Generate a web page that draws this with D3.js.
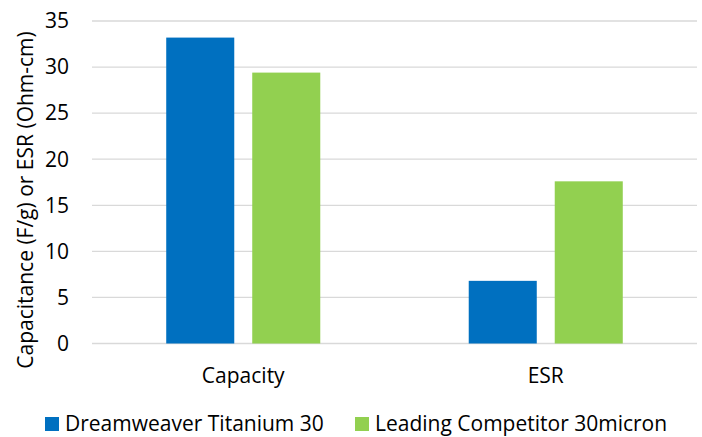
<!DOCTYPE html>
<html>
<head>
<meta charset="utf-8">
<script src="https://cdn.jsdelivr.net/npm/d3@7"></script>
<style>
  html, body { margin: 0; padding: 0; background: #fff; }
  svg { display: block; font-family: "Open Sans", Lato, sans-serif; }
</style>
</head>
<body>
<svg id="chart" width="702" height="437"></svg>
<script>
const categories = ["Capacity", "ESR"];
const seriesNames = ["Dreamweaver Titanium 30", "Leading Competitor 30micron"];
const dreamweaverValues = [33.2, 6.8];
const competitorValues = [29.4, 17.6];
const yTicks = [0, 5, 10, 15, 20, 25, 30, 35];
const colors = ["#0070C0", "#92D050"];
const yTitle = "Capacitance (F/g) or ESR (Ohm-cm)";

const svg = d3.select("#chart");
const margin = { left: 92, right: 5, top: 21, bottom: 93.5 };
const W = 702, H = 437;
const fontSize = 21;

const x = d3.scaleBand().domain(categories).range([margin.left, W - margin.right]).paddingInner(0).paddingOuter(0);
const x1 = d3.scaleBand().domain(seriesNames).range([0, x.bandwidth()]).paddingInner(0.209).paddingOuter(0.863);
const y = d3.scaleLinear().domain([0, 35]).range([H - margin.bottom, margin.top]);

// gridlines
svg.append("g")
  .selectAll("line").data(yTicks).join("line")
  .attr("x1", margin.left).attr("x2", W - margin.right)
  .attr("y1", d => y(d)).attr("y2", d => y(d))
  .attr("stroke", "#d9d9d9").attr("stroke-width", 1.3);

// y tick labels
svg.append("g")
  .selectAll("text").data(yTicks).join("text")
  .attr("x", 69).attr("y", d => y(d)).attr("dy", "0.35em")
  .attr("text-anchor", "end").attr("font-size", fontSize).attr("fill", "#000")
  .text(d => d);

// bars
const series = [dreamweaverValues, competitorValues];
const rows = [];
categories.forEach((c, i) => seriesNames.forEach((s, j) => rows.push({ c, s, v: series[j][i], j })));
svg.append("g")
  .selectAll("rect").data(rows).join("rect")
  .attr("x", d => x(d.c) + x1(d.s))
  .attr("width", x1.bandwidth())
  .attr("y", d => y(d.v))
  .attr("height", d => y(0) - y(d.v))
  .attr("fill", d => colors[d.j]);

// category labels
svg.append("g")
  .selectAll("text").data(categories).join("text")
  .attr("x", d => x(d) + x.bandwidth() / 2).attr("y", 383)
  .attr("text-anchor", "middle").attr("font-size", fontSize).attr("fill", "#000")
  .text(d => d);

// y axis title
svg.append("text")
  .attr("transform", "translate(33,200) rotate(-90)")
  .attr("text-anchor", "middle").attr("font-size", fontSize).attr("fill", "#000")
  .text(yTitle);

// legend
const legendX = [45, 355];
const lg = svg.append("g").selectAll("g").data(seriesNames).join("g")
  .attr("transform", (d, i) => `translate(${legendX[i]},417)`);
lg.append("rect").attr("width", 14).attr("height", 14).attr("fill", (d, i) => colors[i]);
lg.append("text").attr("x", 20).attr("y", 14).attr("font-size", fontSize).attr("fill", "#000").text(d => d);
</script>
</body>
</html>
